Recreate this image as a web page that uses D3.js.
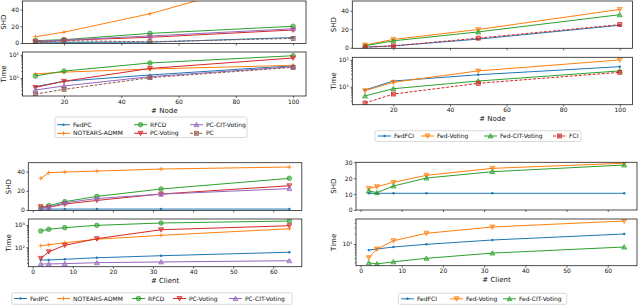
<!DOCTYPE html>
<html><head><meta charset="utf-8">
<script src="https://cdn.jsdelivr.net/npm/d3@7"></script>
<style>body{margin:0;background:#fff} svg{display:block} text{font-family:"DejaVu Sans",sans-serif}</style>
</head><body><svg id="c" width="640" height="305"></svg>
<script>
// ---------------- DATA ----------------
// Panel A (top-left): PC family vs # Node
const nodeCountsA = [10, 20, 50, 100];
const shdA_FedPC    = [1, 0.8, 1, 6.5];
const shdA_NOTEARS  = [7.5, 13, 35, 83];
const shdA_RFCD     = [2.8, 4, 11.5, 20];
const shdA_PCVoting = [1.6, 3.2, 6.8, 15.6];
const shdA_PCCIT    = [2, 3.5, 8.4, 17];
const shdA_PC       = [0.5, 2.7, 1.5, 5.5];
const timeA_FedPC    = [4.2, 7.2, 13.5, 34];
const timeA_NOTEARS  = [15, 18, 24.6, 35.5];
const timeA_RFCD     = [12.2, 20, 45, 93];
const timeA_PCVoting = [3.9, 7.2, 26, 74];
const timeA_PCCIT    = [3.0, 4.5, 11.4, 31];
const timeA_PC       = [2.0, 3.2, 10.3, 29];

// Panel B (top-right): FCI family vs # Node
const nodeCountsB = [10, 20, 50, 100];
const shdB_FedFCI    = [0.7, 2, 9.3, 24.3];
const shdB_FedVoting = [2.9, 9, 19.7, 41.4];
const shdB_FedCIT    = [2.1, 7.5, 17.1, 35.7];
const shdB_FCI       = [0.7, 2, 10.4, 25];
const timeB_FedFCI    = [7.5, 16.3, 28, 56];
const timeB_FedVoting = [7.1, 14.6, 39, 100];
const timeB_FedCIT    = [4.5, 8.4, 16.3, 39];
const timeB_FCI       = [2.45, 5.3, 13.4, 34.5];

// Panel C (bottom-left): PC family vs # Client
const clientCountsC = [2, 4, 8, 16, 32, 64];
const shdC_FedPC    = [1, 1, 1, 1, 1, 1];
const shdC_NOTEARS  = [33, 38.9, 39.6, 40.6, 42.7, 44.8];
const shdC_RFCD     = [2, 4.5, 8.7, 14.2, 21.9, 33];
const shdC_PCVoting = [3.5, 2.8, 6.2, 10, 16.7, 25.3];
const shdC_PCCIT    = [1.5, 3, 7.5, 12, 16.5, 22.3];
const timeC_FedPC    = [27, 27, 29, 34, 42, 60];
const timeC_NOTEARS  = [118, 130, 160, 230, 345, 680];
const timeC_RFCD     = [540, 645, 760, 970, 1230, 1510];
const timeC_PCVoting = [32, 63, 123, 244, 615, 930];
const timeC_PCCIT    = [18, 18, 18.5, 20.4, 22, 25];

// Panel D (bottom-right): FCI family vs # Client
const clientCountsD = [2, 4, 8, 16, 32, 64];
const shdD_FedFCI    = [10.5, 10.5, 10.5, 10.5, 10.5, 10.5];
const shdD_FedVoting = [13.6, 14.7, 17.4, 21.8, 26.2, 29.4];
const shdD_FedCIT    = [12, 10.9, 15.1, 20.1, 24.1, 28.3];
const timeD_FedFCI    = [6.7, 7.2, 8.2, 9.8, 13, 19.3];
const timeD_FedVoting = [4.06, 7.2, 12.4, 20.2, 30.6, 45.4];
const timeD_FedCIT    = [2.9, 2.7, 3.1, 3.9, 5.5, 8.2];

// tick labels
const nodeTicks = [20, 40, 60, 80, 100];
const clientTicks = [0, 10, 20, 30, 40, 50, 60];
const shdTicksPC = [0, 20, 40];
const shdTicksFCI = [0, 20, 40];
const shdTicksClientFCI = [0, 10, 20, 30];

// ---------------- STYLE ----------------
const C = {blue:"#1f77b4", orange:"#ff7f0e", green:"#2ca02c", red:"#d62728", purple:"#9467bd", brown:"#8c564b"};
const svg = d3.select("#c");
const supDigits = {"0":"⁰","1":"¹","2":"²","3":"³","4":"⁴","5":"⁵","6":"⁶","7":"⁷","8":"⁸","9":"⁹","-":"⁻"};
const logFmt = v => "10" + String(Math.round(Math.log10(v))).split("").map(c => supDigits[c]).join("");

function drawMarker(g, type, cx, cy, color) {
  const s = 2.3;
  if (type === "o") {
    g.append("circle").attr("cx", cx).attr("cy", cy).attr("r", s)
      .attr("fill", color).attr("fill-opacity", 0.55).attr("stroke", color).attr("stroke-width", 0.7);
  } else if (type === ".") {
    g.append("circle").attr("cx", cx).attr("cy", cy).attr("r", 1.2).attr("fill", color);
  } else if (type === "+") {
    g.append("path").attr("d", `M${cx-2.2},${cy}H${cx+2.2}M${cx},${cy-2.2}V${cy+2.2}`)
      .attr("stroke", color).attr("stroke-width", 0.8);
  } else if (type === "s") {
    g.append("rect").attr("x", cx-2).attr("y", cy-2).attr("width", 4).attr("height", 4)
      .attr("fill", color).attr("fill-opacity", 0.55).attr("stroke", color).attr("stroke-width", 0.7);
  } else if (type === "v") {
    g.append("path").attr("d", `M${cx-2.5},${cy-2}L${cx+2.5},${cy-2}L${cx},${cy+2.4}Z`)
      .attr("fill", color).attr("fill-opacity", 0.55).attr("stroke", color).attr("stroke-width", 0.7);
  } else if (type === "^") {
    g.append("path").attr("d", `M${cx-2.5},${cy+2}L${cx+2.5},${cy+2}L${cx},${cy-2.4}Z`)
      .attr("fill", color).attr("fill-opacity", 0.55).attr("stroke", color).attr("stroke-width", 0.7);
  }
}

let clipId = 0;
function drawAxesBox(left, right, top, bottom) {
  const id = "clip" + (clipId++);
  svg.append("clipPath").attr("id", id).append("rect")
    .attr("x", left).attr("y", top).attr("width", right-left).attr("height", bottom-top);
  return id;
}

function styleAxis(ax) {
  ax.selectAll("path.domain").remove();
  ax.selectAll("line").attr("stroke", "#000").attr("stroke-width", 0.6);
  ax.selectAll("text").attr("font-size", 6).attr("fill", "#111").attr("font-family", "DejaVu Sans");
}

function drawPanel(cfg) {
  const x = d3.scaleLinear().domain(cfg.xDomain).range([cfg.left, cfg.right]);
  const yS = d3.scaleLinear().domain(cfg.shdDomain).range([cfg.shdBottom, cfg.shdTop]);
  const yT = d3.scaleLog().domain(cfg.timeDomain).range([cfg.timeBottom, cfg.timeTop]);

  [[yS, cfg.shdTop, cfg.shdBottom, "shd"], [yT, cfg.timeTop, cfg.timeBottom, "time"]].forEach(([ys, top, bottom, kind]) => {
    const clip = drawAxesBox(cfg.left, cfg.right, top, bottom);
    // x axis
    const xa = svg.append("g").attr("transform", `translate(0,${bottom})`)
      .call(d3.axisBottom(x).tickValues(cfg.xTicks).tickSize(2).tickPadding(1.5)
        .tickFormat(kind === "time" ? d3.format("d") : () => ""));
    styleAxis(xa);
    // y axis
    if (kind === "shd") {
      const ya = svg.append("g").attr("transform", `translate(${cfg.left},0)`)
        .call(d3.axisLeft(ys).tickValues(cfg.shdTicks).tickSize(2).tickPadding(1.5));
      styleAxis(ya);
    } else {
      const [d0, d1] = cfg.timeDomain;
      const majors = [], minors = [];
      for (let e = Math.floor(Math.log10(d0)) - 1; e <= Math.ceil(Math.log10(d1)); e++) {
        const b = Math.pow(10, e);
        if (b >= d0 && b <= d1) majors.push(b);
        for (let k = 2; k <= 9; k++) { const v = k * b; if (v >= d0 && v <= d1) minors.push(v); }
      }
      const ya = svg.append("g").attr("transform", `translate(${cfg.left},0)`)
        .call(d3.axisLeft(ys).tickValues(majors).tickSize(2).tickPadding(1.5).tickFormat(logFmt));
      styleAxis(ya);
      const ym = svg.append("g").attr("transform", `translate(${cfg.left},0)`)
        .call(d3.axisLeft(ys).tickValues(minors).tickSize(1.2).tickFormat(() => ""));
      styleAxis(ym);
    }
    // series
    const pg = svg.append("g").attr("clip-path", `url(#${clip})`);
    cfg.series.forEach(s => {
      const vals = kind === "shd" ? s.shd : s.time;
      const pts = cfg.xs.map((xv, i) => [x(xv), ys(vals[i])]);
      pg.append("path").attr("d", d3.line()(pts)).attr("fill", "none")
        .attr("stroke", s.color).attr("stroke-width", 1)
        .attr("stroke-dasharray", s.dashed ? "3,1.6" : null);
      pts.forEach(p => drawMarker(pg, s.marker, p[0], p[1], s.color));
    });
    // frame
    svg.append("rect").attr("x", cfg.left).attr("y", top).attr("width", cfg.right - cfg.left)
      .attr("height", bottom - top).attr("fill", "none").attr("stroke", "#222").attr("stroke-width", 0.8);
  });

  // axis labels
  const lab = (t, xx, yy, rot) => svg.append("text").text(t).attr("font-size", 7).attr("fill", "#111")
    .attr("text-anchor", "middle")
    .attr("transform", `translate(${xx},${yy})` + (rot ? " rotate(-90)" : ""));
  lab("SHD", cfg.yLabelX, (cfg.shdTop + cfg.shdBottom) / 2, true);
  lab("Time", cfg.yLabelX, (cfg.timeTop + cfg.timeBottom) / 2, true);
  lab(cfg.xLabel, (cfg.left + cfg.right) / 2, cfg.timeBottom + 16.5, false);

  // legend
  const L = cfg.legend;
  svg.append("rect").attr("x", L.box[0]).attr("y", L.box[1]).attr("width", L.box[2] - L.box[0])
    .attr("height", L.box[3] - L.box[1]).attr("rx", 1.5).attr("fill", "#fff").attr("fill-opacity", 0.8)
    .attr("stroke", "#d0d0d0").attr("stroke-width", 0.8);
  const lg = svg.append("g");
  cfg.series.forEach((s, i) => {
    const [hx, hy] = L.pos[i];
    lg.append("line").attr("x1", hx).attr("x2", hx + 13).attr("y1", hy).attr("y2", hy)
      .attr("stroke", s.color).attr("stroke-width", 1).attr("stroke-dasharray", s.dashed ? "3,1.6" : null);
    drawMarker(lg, s.marker, hx + 6.5, hy, s.color);
    lg.append("text").text(s.name).attr("x", hx + 16).attr("y", hy).attr("dy", "0.35em")
      .attr("font-size", 6).attr("fill", "#111");
  });
}

// ---------------- PANELS ----------------
drawPanel({
  xs: nodeCountsA, xDomain: [5.5, 104.5], left: 22.5, right: 306, xTicks: nodeTicks, xLabel: "# Node",
  shdDomain: [-0.6, 50.3], shdTop: 1, shdBottom: 43.5, shdTicks: shdTicksPC,
  timeDomain: [Math.pow(10, 0.217), Math.pow(10, 2.13)], timeTop: 52, timeBottom: 96,
  yLabelX: 6,
  series: [
    {name: "FedPC", color: C.blue, marker: ".", shd: shdA_FedPC, time: timeA_FedPC},
    {name: "NOTEARS-ADMM", color: C.orange, marker: "+", shd: shdA_NOTEARS, time: timeA_NOTEARS},
    {name: "RFCD", color: C.green, marker: "o", shd: shdA_RFCD, time: timeA_RFCD},
    {name: "PC-Voting", color: C.red, marker: "v", shd: shdA_PCVoting, time: timeA_PCVoting},
    {name: "PC-CIT-Voting", color: C.purple, marker: "^", shd: shdA_PCCIT, time: timeA_PCCIT},
    {name: "PC", color: C.brown, marker: "s", dashed: true, shd: shdA_PC, time: timeA_PC}
  ],
  legend: {box: [55, 117, 247, 137.5],
    pos: [[57, 124.7], [57, 133.3], [134, 124.7], [134, 133.3], [190, 124.7], [190, 133.3]]}
});

drawPanel({
  xs: nodeCountsB, xDomain: [5.5, 104.5], left: 352.3, right: 632.5, xTicks: nodeTicks, xLabel: "# Node",
  shdDomain: [-0.6, 50.5], shdTop: 1, shdBottom: 48.3, shdTicks: shdTicksFCI,
  timeDomain: [Math.pow(10, 0.326), Math.pow(10, 2.10)], timeTop: 57.3, timeBottom: 104.7,
  yLabelX: 336,
  series: [
    {name: "FedFCI", color: C.blue, marker: ".", shd: shdB_FedFCI, time: timeB_FedFCI},
    {name: "Fed-Voting", color: C.orange, marker: "v", shd: shdB_FedVoting, time: timeB_FedVoting},
    {name: "Fed-CIT-Voting", color: C.green, marker: "^", shd: shdB_FedCIT, time: timeB_FedCIT},
    {name: "FCI", color: C.red, marker: "s", dashed: true, shd: shdB_FCI, time: timeB_FCI}
  ],
  legend: {box: [375, 130.7, 581, 141.5], pos: [[378, 136], [421, 136], [484, 136], [553, 136]]}
});

drawPanel({
  xs: clientCountsC, xDomain: [-1.1, 67.1], left: 28.3, right: 301.8, xTicks: clientTicks, xLabel: "# Client",
  shdDomain: [-0.5, 49.3], shdTop: 162.7, shdBottom: 210.5, shdTicks: shdTicksPC,
  timeDomain: [Math.pow(10, 1.13), Math.pow(10, 3.27)], timeTop: 219, timeBottom: 266.7,
  yLabelX: 11,
  series: [
    {name: "FedPC", color: C.blue, marker: ".", shd: shdC_FedPC, time: timeC_FedPC},
    {name: "NOTEARS-ADMM", color: C.orange, marker: "+", shd: shdC_NOTEARS, time: timeC_NOTEARS},
    {name: "RFCD", color: C.green, marker: "o", shd: shdC_RFCD, time: timeC_RFCD},
    {name: "PC-Voting", color: C.red, marker: "v", shd: shdC_PCVoting, time: timeC_PCVoting},
    {name: "PC-CIT-Voting", color: C.purple, marker: "^", shd: shdC_PCCIT, time: timeC_PCCIT}
  ],
  legend: {box: [11.7, 292.7, 292, 304.3], pos: [[14, 298.5], [57, 298.5], [132, 298.5], [173, 298.5], [229, 298.5]]}
});

drawPanel({
  xs: clientCountsD, xDomain: [-1.1, 67.1], left: 356, right: 637, xTicks: clientTicks, xLabel: "# Client",
  shdDomain: [0, 30], shdTop: 162.3, shdBottom: 210, shdTicks: shdTicksClientFCI,
  timeDomain: [Math.pow(10, 0.38), Math.pow(10, 1.714)], timeTop: 219, timeBottom: 265.7,
  yLabelX: 336,
  series: [
    {name: "FedFCI", color: C.blue, marker: ".", shd: shdD_FedFCI, time: timeD_FedFCI},
    {name: "Fed-Voting", color: C.orange, marker: "v", shd: shdD_FedVoting, time: timeD_FedVoting},
    {name: "Fed-CIT-Voting", color: C.green, marker: "^", shd: shdD_FedCIT, time: timeD_FedCIT}
  ],
  legend: {box: [398.3, 293.3, 566.7, 304.3], pos: [[401, 298.8], [450, 298.8], [503, 298.8]]}
});
</script></body></html>
